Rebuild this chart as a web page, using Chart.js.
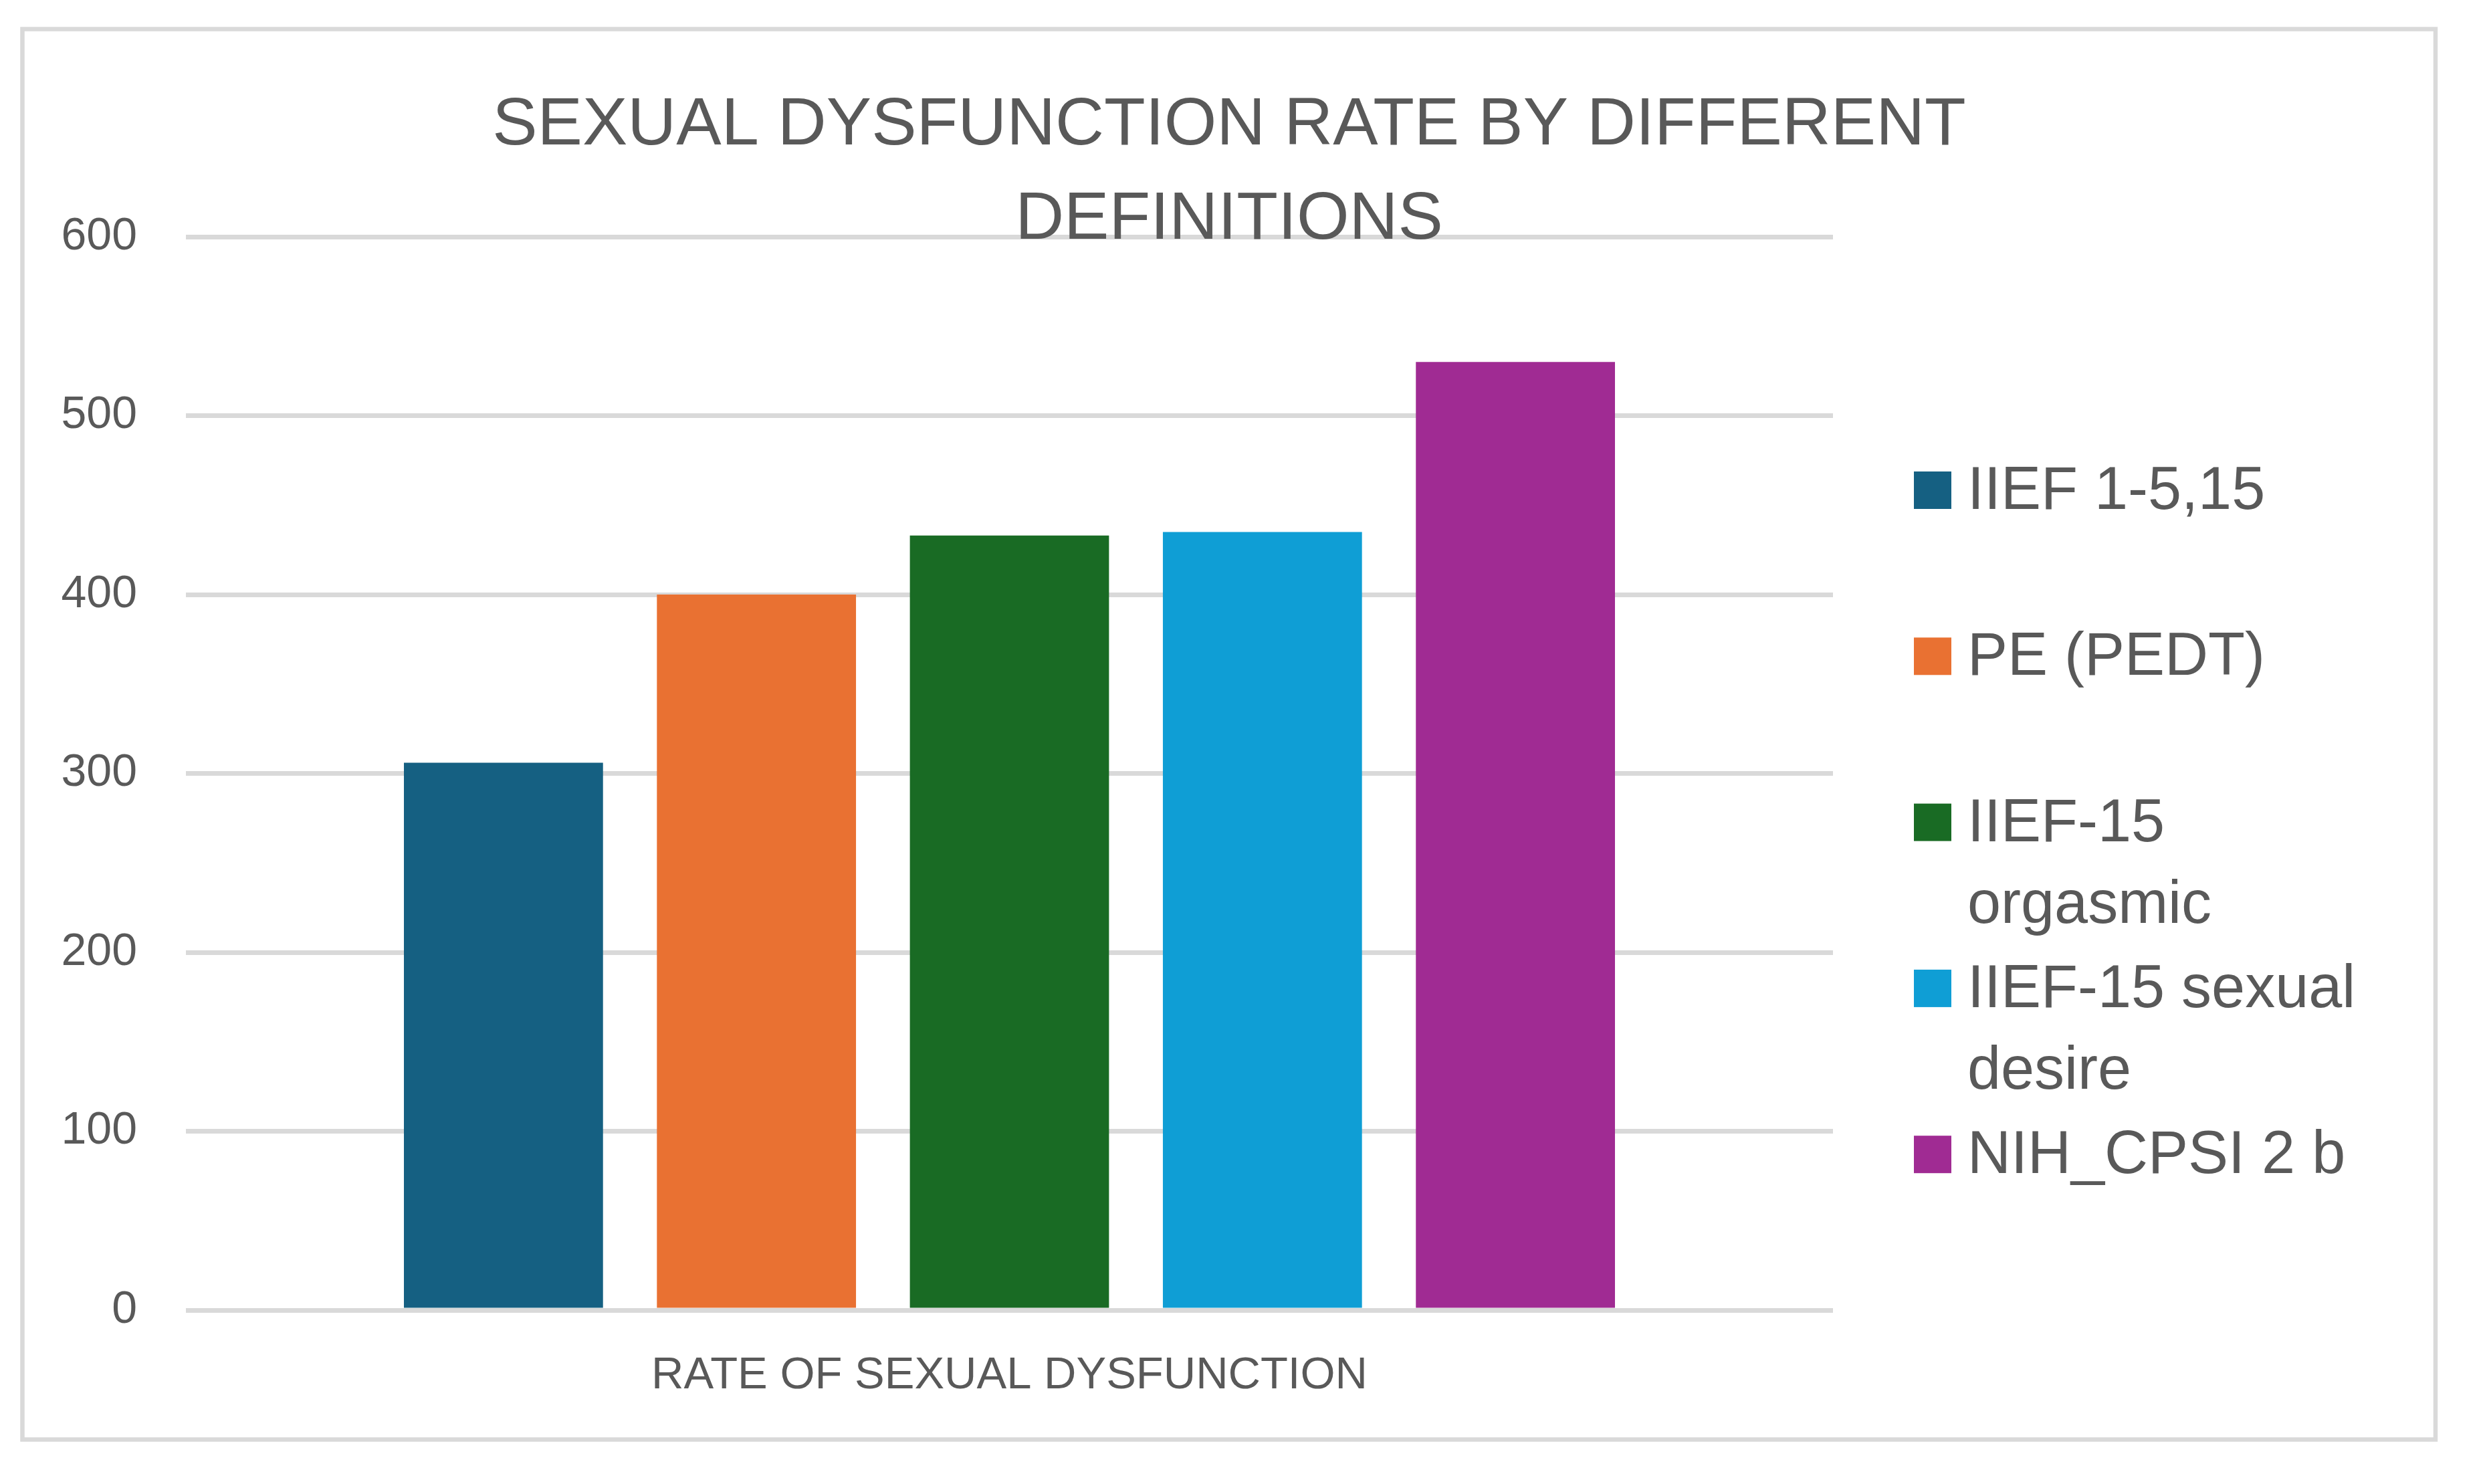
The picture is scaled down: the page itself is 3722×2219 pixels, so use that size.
<!DOCTYPE html>
<html>
<head>
<meta charset="utf-8">
<script src="https://cdn.jsdelivr.net/npm/chart.js@4/dist/chart.umd.min.js"></script>
<style>
  html, body { margin: 0; padding: 0; background: #ffffff; overflow: hidden; }
  canvas { display: block; }
</style>
</head>
<body>
<canvas id="chart" width="3722" height="2219"></canvas>
<script>
// data
const categories = ["RATE OF SEXUAL DYSFUNCTION"];
const seriesNames = ["IIEF 1-5,15", "PE (PEDT)", "IIEF-15 orgasmic", "IIEF-15 sexual desire", "NIH_CPSI 2 b"];
const seriesValues = [306, 400, 433, 435, 530];
const titleLines = ["SEXUAL DYSFUNCTION RATE BY DIFFERENT", "DEFINITIONS"];
const yMin = 0;
const yMax = 600;
const yStep = 100;

const colors = ["#156082", "#E97132", "#196B24", "#0F9ED5", "#A02B93"];
const textColor = "#595959";
const lineColor = "#D9D9D9";
const fontName = "'Liberation Sans', Arial, sans-serif";

const datasets = seriesNames.map((name, i) => ({
  label: name,
  data: [seriesValues[i]],
  backgroundColor: colors[i],
  borderWidth: 0
}));

// cut a label into lines so it fits the legend column
const wrap = (ctx, text, maxW) => {
  const words = text.split(" ");
  let lines = [];
  let cur = "";
  words.forEach(w => {
    const test = cur ? cur + " " + w : w;
    if (cur && ctx.measureText(test).width > maxW) {
      lines.push(cur);
      cur = w;
    } else {
      cur = test;
    }
  });
  if (cur) lines.push(cur);
  return lines;
};

const decor = {
  id: "decor",
  beforeDraw(chart) {
    const ctx = chart.ctx;
    ctx.save();
    ctx.fillStyle = "#ffffff";
    ctx.fillRect(0, 0, chart.width, chart.height);
    ctx.strokeStyle = lineColor;
    ctx.lineWidth = 6.5;
    ctx.strokeRect(33.5, 43.5, 3608.5, 2109);
    ctx.restore();
  },
  afterDraw(chart) {
    const ctx = chart.ctx;
    ctx.save();
    ctx.fillStyle = textColor;

    // title, two lines centred on the frame
    ctx.font = "101px " + fontName;
    ctx.textAlign = "center";
    ctx.textBaseline = "alphabetic";
    titleLines.forEach((line, i) => {
      ctx.fillText(line, 1838, 216 + i * 141);
    });

    // legend on the right
    ctx.font = "90px " + fontName;
    ctx.textAlign = "left";
    chart.data.datasets.forEach((ds, i) => {
      const base = 761 + i * 248.3;
      ctx.fillStyle = ds.backgroundColor;
      ctx.fillRect(2862, base - 56, 56, 56);
      ctx.fillStyle = textColor;
      wrap(ctx, ds.label, 640).forEach((line, j) => {
        ctx.fillText(line, 2942, base + j * 122);
      });
    });
    ctx.restore();
  }
};

const chart = new Chart(document.getElementById("chart"), {
  type: "bar",
  data: { labels: categories, datasets: datasets },
  options: {
    responsive: false,
    animation: false,
    devicePixelRatio: 1,
    layout: { padding: { top: 354, right: 981, bottom: 0, left: 0 } },
    categoryPercentage: 0.768,
    barPercentage: 0.787,
    plugins: {
      legend: { display: false },
      title: { display: false },
      tooltip: { enabled: false }
    },
    scales: {
      x: {
        grid: { display: false, drawTicks: false },
        border: { display: false },
        ticks: {
          color: textColor,
          font: { family: fontName, size: 67 },
          padding: 58,
          maxRotation: 0
        },
        afterFit: (scale) => { scale.height = 260; }
      },
      y: {
        min: yMin,
        max: yMax,
        grid: { color: lineColor, lineWidth: 7, drawTicks: false },
        border: { display: false },
        ticks: {
          stepSize: yStep,
          color: textColor,
          font: { family: fontName, size: 68 },
          padding: 73
        },
        afterFit: (scale) => { scale.width = 278; }
      }
    }
  },
  plugins: [decor]
});
</script>
</body>
</html>
